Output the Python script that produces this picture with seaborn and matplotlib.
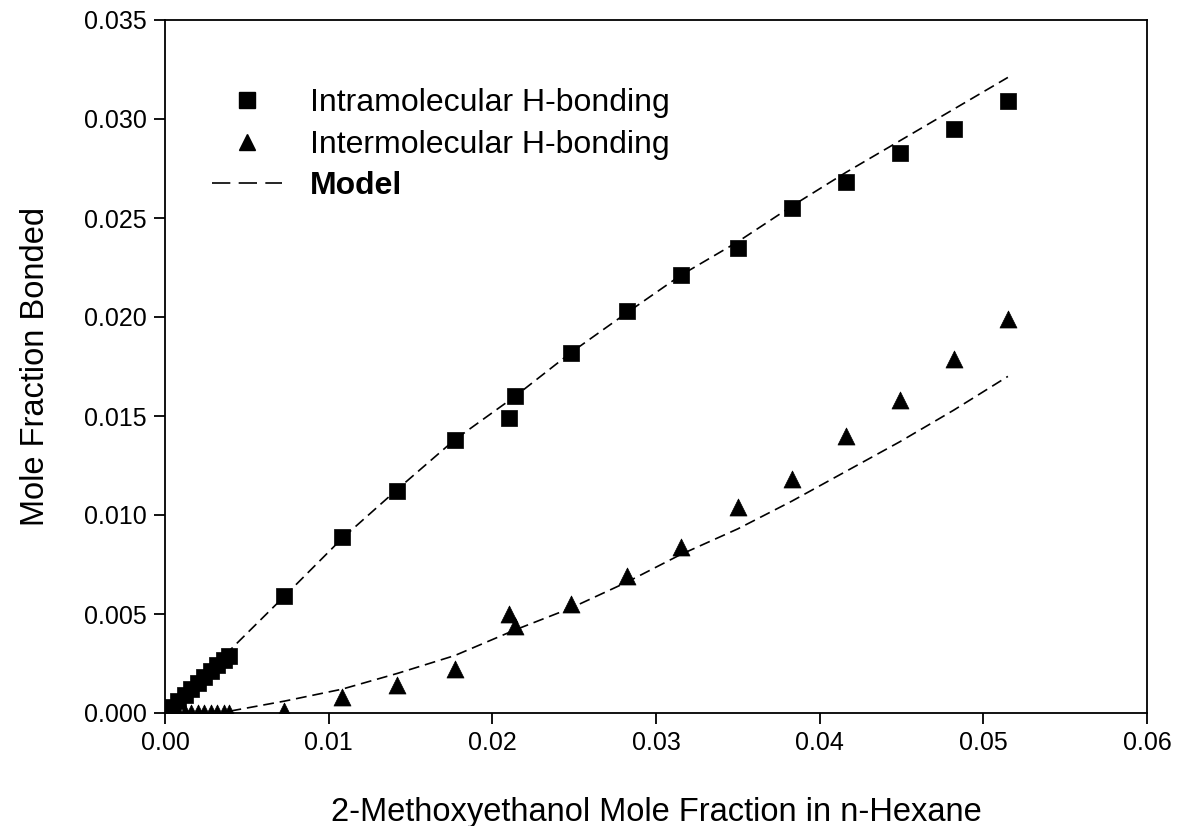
import matplotlib
matplotlib.use("Agg")
import matplotlib.pyplot as plt
import seaborn as sns
import pandas as pd
from matplotlib.lines import Line2D

sns.set_theme(style="ticks")
plt.rcParams['font.family'] = ['Liberation Sans', 'DejaVu Sans']
plt.rcParams['text.color'] = 'black'
plt.rcParams['axes.labelcolor'] = 'black'
plt.rcParams['xtick.color'] = 'black'
plt.rcParams['ytick.color'] = 'black'

x_low = [0.0004, 0.0008, 0.0012, 0.0016, 0.0020, 0.0024, 0.0028, 0.0032, 0.0036, 0.0039]
intra_low = [0.0003, 0.0006, 0.0009, 0.0012, 0.0015, 0.0018, 0.0021, 0.0024, 0.0027, 0.0029]
inter_low = [0.0, 0.0, 0.0, 0.0, 0.0, 0.0, 0.0, 0.0, 0.0, 0.0]

x_main = [0.0073, 0.0108, 0.0142, 0.0177, 0.0210, 0.0214, 0.0248, 0.0282, 0.0315,
          0.0350, 0.0383, 0.0416, 0.0449, 0.0482, 0.0515]
intra_main = [0.0059, 0.0089, 0.0112, 0.0138, 0.0149, 0.0160, 0.0182, 0.0203, 0.0221,
              0.0235, 0.0255, 0.0268, 0.0283, 0.0295, 0.0309]
inter_main = [0.0001, 0.0008, 0.0014, 0.0022, 0.0050, 0.0044, 0.0055, 0.0069, 0.0084,
              0.0104, 0.0118, 0.0140, 0.0158, 0.0179, 0.0199]

model_x = [0.0, 0.0040, 0.0073, 0.0108, 0.0142, 0.0177, 0.0214, 0.0248, 0.0282,
           0.0315, 0.0350, 0.0383, 0.0416, 0.0449, 0.0482, 0.0515]
model_intra = [0.0, 0.0032, 0.0059, 0.0088, 0.0113, 0.0138, 0.0160, 0.0182, 0.0202,
               0.0221, 0.0238, 0.0256, 0.0273, 0.0289, 0.0305, 0.0321]
model_inter_x = [0.0040, 0.0073, 0.0108, 0.0142, 0.0177, 0.0214, 0.0248, 0.0282,
                 0.0315, 0.0350, 0.0383, 0.0416, 0.0449, 0.0482, 0.0515]
model_inter = [0.0001, 0.0006, 0.0012, 0.0020, 0.0029, 0.0042, 0.0053, 0.0066,
               0.0080, 0.0093, 0.0107, 0.0122, 0.0137, 0.0153, 0.0170]

x_all = x_low + x_main
df_intra = pd.DataFrame({"x": x_all, "y": intra_low + intra_main})
df_inter = pd.DataFrame({"x": x_all, "y": inter_low + inter_main})
df_mi = pd.DataFrame({"x": model_x, "y": model_intra})
df_me = pd.DataFrame({"x": model_inter_x, "y": model_inter})

fig = plt.figure(figsize=(11.78, 8.26), dpi=100)
ax = fig.add_axes([165/1178, 1 - 713/826, (1147-165)/1178, (713-20)/826])

dash = (6.5, 3.5)
sns.lineplot(data=df_mi, x="x", y="y", ax=ax, color="black", lw=1.2, sort=False)
sns.lineplot(data=df_me, x="x", y="y", ax=ax, color="black", lw=1.2, sort=False)
for ln in ax.lines:
    ln.set_dashes(dash)
sns.scatterplot(data=df_intra, x="x", y="y", ax=ax, marker="s", s=130, color="black",
                edgecolor="black", linewidth=0.5, zorder=3)
sns.scatterplot(data=df_inter, x="x", y="y", ax=ax, marker="^", s=150, color="black",
                edgecolor="black", linewidth=0.5, zorder=3)

ax.set_xlim(0, 0.06)
ax.set_ylim(0, 0.035)
ax.set_xticks([0.00, 0.01, 0.02, 0.03, 0.04, 0.05, 0.06])
ax.set_xticklabels(["0.00", "0.01", "0.02", "0.03", "0.04", "0.05", "0.06"])
ax.set_yticks([0.0, 0.005, 0.010, 0.015, 0.020, 0.025, 0.030, 0.035])
ax.set_yticklabels(["0.000", "0.005", "0.010", "0.015", "0.020", "0.025", "0.030", "0.035"])
ax.tick_params(direction="out", length=8, width=1.3, labelsize=18, colors="black", pad=5)
for sp in ax.spines.values():
    sp.set_linewidth(1.3)
    sp.set_color("black")

ax.set_xlabel("2-Methoxyethanol Mole Fraction in n-Hexane", fontsize=23.5, labelpad=30, color="black")
ax.set_ylabel("Mole Fraction Bonded", fontsize=23.5, labelpad=24, color="black")

handles = [
    Line2D([], [], marker="s", color="black", linestyle="None", markersize=11),
    Line2D([], [], marker="^", color="black", linestyle="None", markersize=12),
    Line2D([], [], color="black", lw=1.2, dashes=(11, 5)),
]
leg = ax.legend(handles, ["Intramolecular H-bonding", "Intermolecular H-bonding", "Model"],
                loc="upper left", bbox_to_anchor=(0.035, 0.92), frameon=False, fontsize=23,
                handlelength=2.2, handletextpad=0.85, labelspacing=0.36, borderaxespad=0)
for t in leg.get_texts():
    t.set_color("black")
leg.get_texts()[2].set_fontweight("bold")

fig.savefig("out.png", dpi=100)
